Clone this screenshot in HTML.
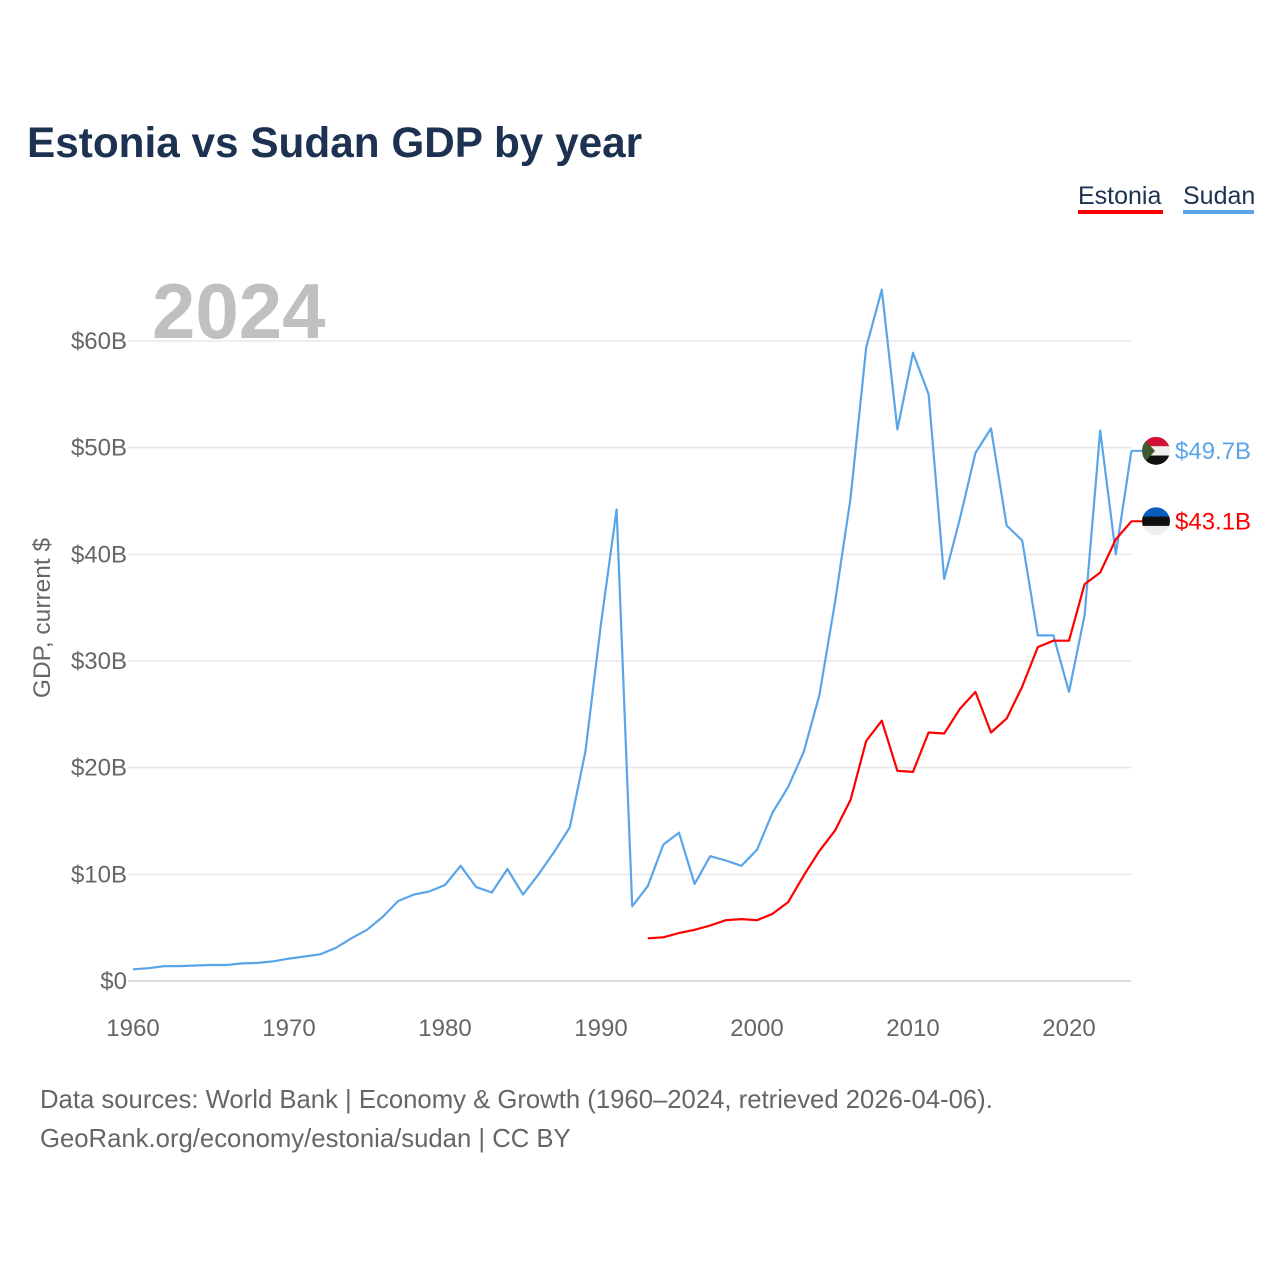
<!DOCTYPE html>
<html><head><meta charset="utf-8"><style>
body{margin:0;background:#fff;font-family:"Liberation Sans",sans-serif}
svg text{font-family:"Liberation Sans",sans-serif}
</style></head><body>
<svg width="1280" height="1280" xmlns="http://www.w3.org/2000/svg" id="chart">
<text x="27" y="157" font-size="42.3" font-weight="bold" fill="#1c3250">Estonia vs Sudan GDP by year</text>
<g>
<text x="1078" y="204" font-size="25" fill="#1c3250">Estonia</text>
<rect x="1078" y="210" width="85" height="4" fill="#ff0000"/>
<text x="1183" y="204" font-size="25" fill="#1c3250">Sudan</text>
<rect x="1183" y="210" width="71" height="4" fill="#5aa5ea"/>
</g>
<text x="152" y="338" font-size="78" font-weight="bold" fill="#c0c0c0">2024</text>
<g id="grid"></g><g id="lines"></g><g id="labels"></g>
<text transform="translate(50,618) rotate(-90)" text-anchor="middle" font-size="24.5" fill="#666">GDP, current $</text>
<text x="40" y="1108" font-size="25.7" fill="#666">Data sources: World Bank | Economy &amp; Growth (1960–2024, retrieved 2026-04-06).</text>
<text x="40" y="1147" font-size="25.7" fill="#666">GeoRank.org/economy/estonia/sudan | CC BY</text>
</svg>
<script>
const sudanYears=[];for(let y=1960;y<=2024;y++)sudanYears.push(y);
const sudanValues=[1.1,1.2,1.4,1.4,1.45,1.5,1.5,1.65,1.7,1.85,2.1,2.3,2.5,3.1,4.0,4.8,6.0,7.5,8.1,8.4,9.0,10.8,8.8,8.3,10.5,8.1,10.0,12.1,14.4,21.5,33.5,44.2,7.0,8.9,12.8,13.9,9.1,11.7,11.3,10.8,12.3,15.8,18.2,21.5,26.8,35.5,45.3,59.4,64.8,51.7,58.9,55.0,37.7,43.3,49.5,51.8,42.7,41.3,32.4,32.4,27.1,34.3,51.6,40.0,49.7];
const estoniaYears=[];for(let y=1993;y<=2024;y++)estoniaYears.push(y);
const estoniaValues=[4.0,4.1,4.5,4.8,5.2,5.7,5.8,5.7,6.3,7.4,9.9,12.2,14.1,17.0,22.5,24.4,19.7,19.6,23.3,23.2,25.5,27.1,23.3,24.6,27.6,31.3,31.9,31.9,37.2,38.3,41.4,43.1];
const yTicks=[0,10,20,30,40,50,60];
const xTicks=[1960,1970,1980,1990,2000,2010,2020];
const NS="http://www.w3.org/2000/svg";
const X=y=>133+(y-1960)*15.6, Y=v=>981-v*10.667;
function mk(tag,attrs,parent,text){const e=document.createElementNS(NS,tag);for(const k in attrs)e.setAttribute(k,attrs[k]);if(text!==undefined)e.textContent=text;parent.appendChild(e);return e;}
const grid=document.getElementById('grid'),lines=document.getElementById('lines'),labels=document.getElementById('labels');
yTicks.forEach(t=>{
 const l=mk('line',{x1:128,x2:1131,y1:Y(t),y2:Y(t),stroke:t===0?'#ddd':'#e8e8e8','stroke-width':t===0?2:1.5},grid);
 
 
 const tx=mk('text',{x:127,y:Y(t)+8,'text-anchor':'end','font-size':24,fill:'#666'},grid,'$'+t+(t?'B':''));
 
 
});
xTicks.forEach(t=>{
 const tx=mk('text',{x:X(t),y:1036,'text-anchor':'middle','font-size':24,fill:'#666'},grid,t);
 
 
});
function line(xs,vs,color,name){
 const d=xs.map((x,i)=>(i?'L':'M')+X(x).toFixed(1)+','+Y(vs[i]).toFixed(1)).join('');
 const p=mk('path',{d:d,fill:'none',stroke:color,'stroke-width':2.2,'stroke-linejoin':'round'},lines);
 
 
}
line(sudanYears,sudanValues,'#5aa5ea','sudan-line');
line(estoniaYears,estoniaValues,'#ff0000','estonia-line');
function endLabel(v,color,name,flag){
 const yy=Y(v),cx=1156;
 mk('line',{x1:1131,x2:1142,y1:yy,y2:yy,stroke:color,'stroke-width':2},labels);
 const g=mk('g',{},labels);
 
 
 const id='clip'+name;
 const cp=mk('clipPath',{id:id},g);mk('circle',{cx:cx,cy:yy,r:14},cp);
 const gg=mk('g',{'clip-path':'url(#'+id+')'},g);
 flag.forEach((c,i)=>mk('rect',{x:cx-14,y:yy-14+i*28/3,width:28,height:28/3+0.5,fill:c},gg));
 if(name==='sudan')mk('polygon',{points:(cx-14)+','+(yy-14)+' '+(cx-1)+','+yy+' '+(cx-14)+','+(yy+14),fill:'#3d5b2e'},gg);
 const t=mk('text',{x:1175,y:yy+8,'font-size':24,fill:color},labels,'$'+v.toFixed(1)+'B');
 
 
}
endLabel(sudanValues[sudanValues.length-1],'#5aa5ea','sudan',['#d21034','#eeeeee','#111111']);
endLabel(estoniaValues[estoniaValues.length-1],'#ff0000','estonia',['#0a5cbf','#111111','#eeeeee']);
</script>
</body></html>
